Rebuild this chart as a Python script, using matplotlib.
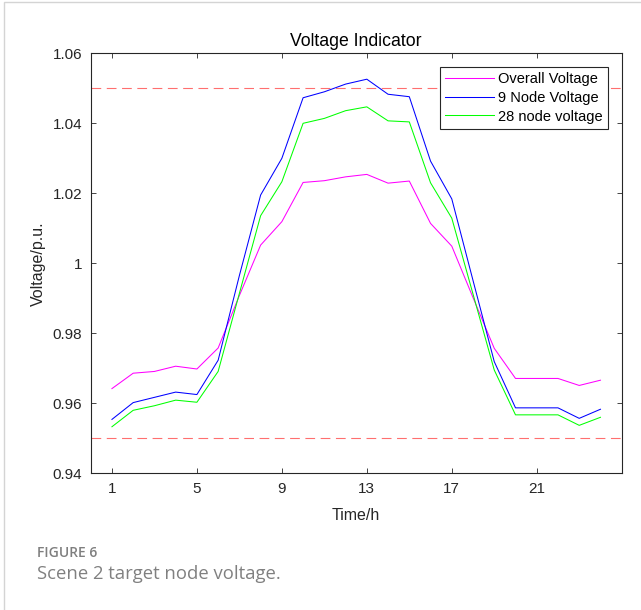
import matplotlib
matplotlib.use("Agg")
import matplotlib.pyplot as plt
from matplotlib.patches import Rectangle

plt.rcParams['font.family'] = ['Liberation Sans', 'DejaVu Sans']
plt.rcParams['lines.scale_dashes'] = False

hours = list(range(1, 25))
overall = [0.9642, 0.9686, 0.9691, 0.9706, 0.9698, 0.9758, 0.9908, 1.0052, 1.0119, 1.0231,
           1.0236, 1.0247, 1.0254, 1.0229, 1.0235, 1.0114, 1.0049, 0.9902, 0.9757, 0.9671,
           0.9671, 0.9671, 0.9651, 0.9666]
node9 = [0.9554, 0.9602, 0.9617, 0.9632, 0.9625, 0.9723, 0.9965, 1.0195, 1.0300, 1.0473,
         1.0490, 1.0512, 1.0526, 1.0483, 1.0476, 1.0292, 1.0184, 0.9951, 0.9719, 0.9587,
         0.9587, 0.9587, 0.9557, 0.9583]
node28 = [0.9533, 0.9580, 0.9593, 0.9609, 0.9603, 0.9691, 0.9914, 1.0136, 1.0233, 1.0400,
          1.0414, 1.0436, 1.0447, 1.0407, 1.0404, 1.0230, 1.0129, 0.9912, 0.9695, 0.9567,
          0.9567, 0.9567, 0.9537, 0.9560]
series_labels = ['Overall Voltage', '9 Node Voltage', '28 node voltage']
limits = [1.05, 0.95]
xticks = [1, 5, 9, 13, 17, 21]
yticks = [0.94, 0.96, 0.98, 1.00, 1.02, 1.04, 1.06]
yticklabels = ['0.94', '0.96', '0.98', '1', '1.02', '1.04', '1.06']

W, H = 641, 610
fig = plt.figure(figsize=(W / 100, H / 100), dpi=100)
fig.patch.set_facecolor('white')

# light page border
fig.add_artist(Rectangle((4 / W, -0.05), 1.2, 1 - 2 / H + 0.05, transform=fig.transFigure,
                         fill=False, edgecolor='#d4d4d4', lw=1.0))

ax = fig.add_axes([90.7 / W, 1 - 473.3 / H, 531 / W, 420 / H])
dark = '#262626'

ax.plot(hours, overall, color='#ff00ff', lw=0.75, label=series_labels[0])
ax.plot(hours, node9, color='#0000ff', lw=0.75, label=series_labels[1])
ax.plot(hours, node28, color='#00ff00', lw=0.75, label=series_labels[2])
for lim in limits:
    ax.axhline(lim, color='#ff6f6f', lw=0.8, dashes=(7, 4))

ax.set_xlim(0, 25)
ax.set_ylim(0.94, 1.06)
ax.set_xticks(xticks)
ax.set_yticks(yticks)
ax.set_yticklabels(yticklabels)
ax.tick_params(direction='in', top=True, right=True, length=3.6, width=0.6,
               colors=dark, labelsize=11, pad=6)
for s in ax.spines.values():
    s.set_color(dark)
    s.set_linewidth(0.8)

ax.set_title('Voltage Indicator', fontsize=12.7, color='black', pad=5)
ax.set_xlabel('Time/h', fontsize=11.5, color=dark, labelpad=9)
ax.set_ylabel('Voltage/p.u.', fontsize=11.5, color=dark, labelpad=5)

leg = ax.legend(loc='upper right', bbox_to_anchor=(608.3 / W, 1 - 66.7 / H),
                bbox_transform=fig.transFigure, borderaxespad=0, fontsize=10.5,
                handlelength=3.36, handletextpad=0.27, labelspacing=0.33,
                borderpad=0.36, fancybox=False, framealpha=1)
leg.get_frame().set_edgecolor(dark)
leg.get_frame().set_linewidth(0.8)

fig.text(37 / W, 1 - 553 / H, 'FIGURE 6', fontsize=10, fontweight='semibold',
         color='#7f7f7f', family=['Open Sans', 'DejaVu Sans'], va='center', ha='left')
fig.text(37 / W, 1 - 574 / H, 'Scene 2 target node voltage.', fontsize=13.3,
         color='#808080', family=['Open Sans', 'DejaVu Sans'], va='center', ha='left')

fig.savefig('out.png', dpi=100, facecolor='white')
